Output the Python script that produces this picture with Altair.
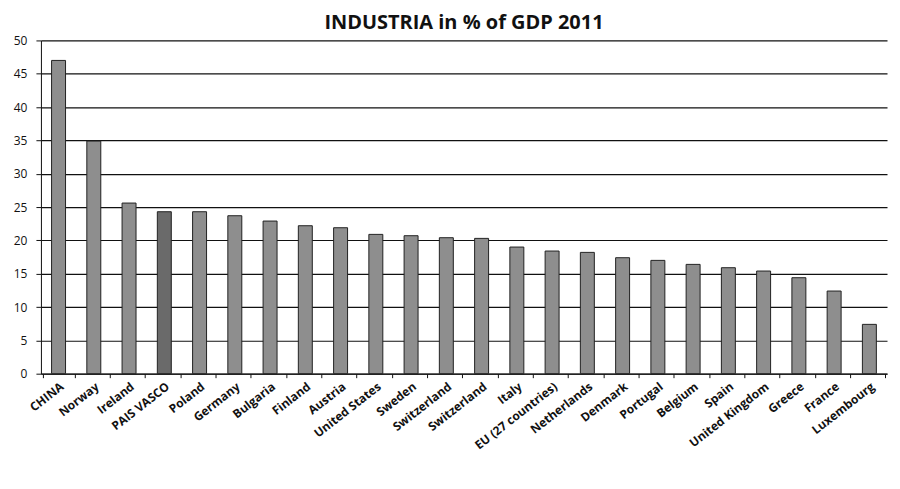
import altair as alt
import pandas as pd

countries = ["CHINA", "Norway", "Ireland", "PAIS VASCO", "Poland", "Germany", "Bulgaria",
             "Finland", "Austria", "United States", "Sweden", "Switzerland", "Switzerland",
             "Italy", "EU (27 countries)", "Netherlands", "Denmark", "Portugal", "Belgium",
             "Spain", "United Kingdom", "Greece", "France", "Luxembourg"]
values = [47.0, 34.9, 25.6, 24.3, 24.3, 23.7, 22.9, 22.2, 21.9, 20.9, 20.7, 20.4, 20.3,
          19.0, 18.4, 18.2, 17.4, 17.0, 16.4, 15.9, 15.4, 14.4, 12.4, 7.4]
highlight = ["PAIS VASCO"]

df = pd.DataFrame({
    "idx": list(range(len(countries))),
    "country": countries,
    "value": values,
    "hl": ["yes" if c in highlight else "no" for c in countries],
})

label_array = "[" + ",".join("'" + c + "'" for c in countries) + "]"

FONT = "Open Sans"

chart = alt.Chart(df).mark_bar(size=14, stroke="#222222", strokeWidth=1).encode(
    x=alt.X("idx:O", sort=None, title=None,
            axis=alt.Axis(labelExpr=label_array + "[datum.value]", labelAngle=-38,
                          labelAlign="right", labelBaseline="top", labelFont=FONT,
                          labelFontSize=12, labelFontWeight="bold", labelColor="#111111",
                          domainColor="#111111", tickColor="#111111", tickBand="extent",
                          tickSize=4, labelPadding=3)),
    y=alt.Y("value:Q", title=None, scale=alt.Scale(domain=[0, 50]),
            axis=alt.Axis(values=list(range(0, 51, 5)), labelFont=FONT, labelFontSize=12,
                          labelColor="#111111", domainColor="#111111", tickColor="#111111",
                          gridColor="#111111", gridWidth=1.2, tickSize=5, labelPadding=9)),
    color=alt.Color("hl:N", scale=alt.Scale(domain=["no", "yes"], range=["#8e8e8e", "#6a6a6a"]),
                    legend=None),
).properties(
    width=848,
    height=334,
    title=alt.TitleParams("INDUSTRIA in % of GDP 2011", font=FONT, fontSize=20,
                          fontWeight="bold", color="#111111", anchor="middle", offset=1),
).configure_view(stroke=None).configure_axis(labelOverlap=False)

chart.save("out.html", embed_options={"renderer": "svg", "actions": False})
